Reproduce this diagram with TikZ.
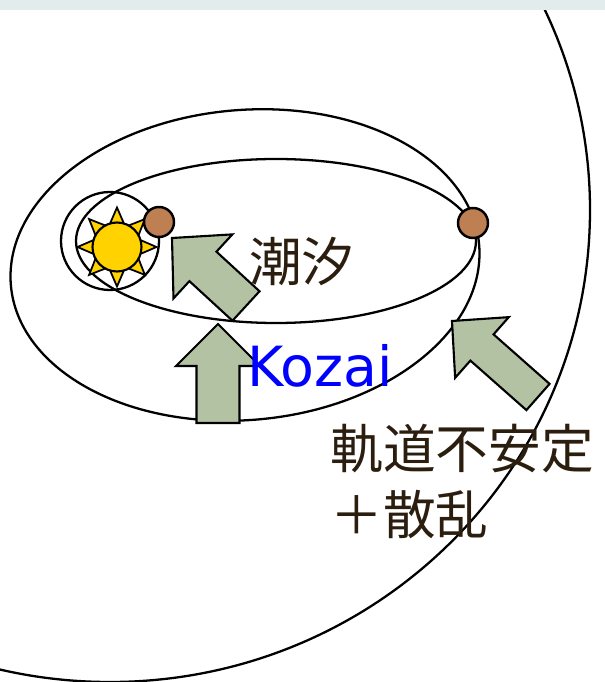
\documentclass[tikz,border=0pt]{standalone}
\usepackage{fontspec}
\setmainfont{DejaVu Sans}
\newfontfamily\jpfont{Noto Sans CJK JP}
\usetikzlibrary{calc}

\definecolor{sungold}{RGB}{255,210,0}
\definecolor{planetbrown}{RGB}{190,128,82}
\definecolor{arrowsage}{RGB}{180,194,164}
\definecolor{labelbrown}{RGB}{43,30,14}
\definecolor{stripgray}{RGB}{227,236,236}

% fat arrow: #1 tail, #2 tip, #3 half shaft, #4 half head, #5 head length
\newcommand{\blockarrow}[5]{%
  \coordinate (h) at ($(#2)!#5!(#1)$);
  \draw[push] ($(#1)!#3!90:(#2)$) -- ($(h)!#3!90:(#2)$) -- ($(h)!#4!90:(#2)$) -- (#2)
    -- ($(h)!#4!-90:(#2)$) -- ($(h)!#3!-90:(#2)$) -- ($(#1)!#3!-90:(#2)$) -- cycle;}

\begin{document}
\begin{tikzpicture}[
  orbit/.style={line width=1.3pt},
  push/.style={draw, line width=1.2pt, fill=arrowsage, line join=miter},
  ray/.style={draw, line width=1pt, fill=sungold, line join=miter},
  planet/.style={circle, draw, line width=1.4pt, fill=planetbrown, minimum size=0.6cm, inner sep=0pt},
  jp/.style={font=\jpfont\fontsize{30}{37.5}\selectfont, text=labelbrown}
]
\useasboundingbox (0,0) rectangle (12.1,13.64);

% outer orbit, mostly off the page
\begin{scope}
  \clip (0,0) rectangle (12.1,13.64);
  \draw[orbit] (2.2,9.44) ellipse [x radius=9.6, y radius=9.44];
\end{scope}
\fill[stripgray] (0,13.44) rectangle (12.1,13.64);

% orbits
\draw[orbit, rotate around={5:(4.9,8.34)}] (4.9,8.34) ellipse [x radius=4.7, y radius=3.1];
\draw[orbit] (5.52,8.82) ellipse [x radius=4.0, y radius=1.64];
\draw[orbit] (2.2,8.82) circle [radius=0.98];

% sun
\coordinate (c) at (2.34,8.7);
\foreach \a in {0,45,...,315}
  \draw[ray] ($(c)+(\a:0.79)$) -- ($(c)+(\a:0.42)+(\a+90:0.16)$) -- ($(c)+(\a:0.42)+(\a-90:0.16)$) -- cycle;
\node[circle, draw, line width=1.2pt, fill=sungold, minimum size=0.98cm, inner sep=0pt] (sun) at (c) {};

% planets
\node[planet] (inner) at (3.18,9.2) {};
\node[planet] (outer) at (9.46,9.18) {};

% arrows
\coordinate (tideT) at (4.92,7.52);
\coordinate (tideH) at (3.44,8.88);
\blockarrow{tideT}{tideH}{0.4cm}{0.87cm}{0.84cm}
\coordinate (kozaiT) at (4.36,5.18);
\coordinate (kozaiH) at (4.36,7.16);
\blockarrow{kozaiT}{kozaiH}{0.43cm}{0.84cm}{0.84cm}
\coordinate (scatT) at (10.76,5.70);
\coordinate (scatH) at (9.04,7.22);
\blockarrow{scatT}{scatH}{0.35cm}{0.81cm}{0.8cm}

% labels
\node[jp] (tide) at (6.04,8.42) {潮汐};
\node[font=\fontsize{31.5}{36}\selectfont, text=blue, anchor=base west, inner sep=0pt] (kozai) at (4.94,5.90) {Kozai};
\node[jp, align=left, anchor=north west, inner sep=0pt] (unstable) at (6.6,5.16) {軌道不安定\\＋散乱};

\end{tikzpicture}
\end{document}
